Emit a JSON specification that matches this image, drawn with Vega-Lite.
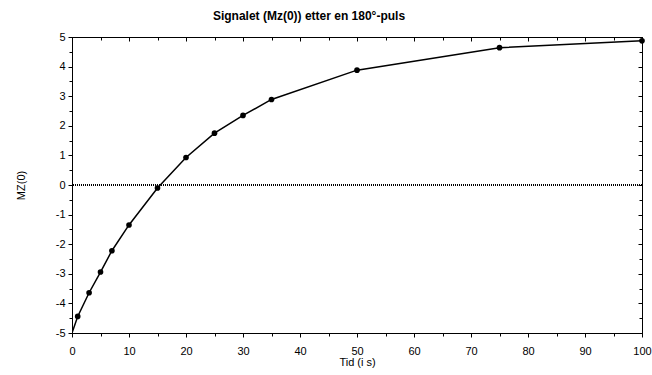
{
  "$schema": "https://vega.github.io/schema/vega-lite/v6.json",
  "width": 570,
  "height": 296,
  "autosize": "none",
  "padding": {"left": 72, "top": 37, "right": 11, "bottom": 42},
  "background": "white",
  "config": {
    "font": "Liberation Sans",
    "view": {"stroke": "black", "strokeWidth": 1},
    "axis": {
      "domainColor": "black",
      "tickColor": "black",
      "labelColor": "black",
      "titleColor": "black",
      "labelFont": "Liberation Sans",
      "titleFont": "Liberation Sans",
      "labelFontSize": 11,
      "titleFontSize": 11,
      "titleFontWeight": "normal",
      "grid": false
    }
  },
  "title": {
    "text": "Signalet (Mz(0)) etter en 180°-puls",
    "font": "Liberation Sans",
    "fontSize": 12,
    "fontWeight": "bold",
    "color": "black",
    "anchor": "middle",
    "baseline": "alphabetic",
    "dx": -48,
    "dy": 3,
    "offset": 2
  },
  "data": {
    "values": [
      {"t": 0, "mz": -5.0, "punkt": false},
      {"t": 1, "mz": -4.44, "punkt": true},
      {"t": 3, "mz": -3.64, "punkt": true},
      {"t": 5, "mz": -2.94, "punkt": true},
      {"t": 7, "mz": -2.22, "punkt": true},
      {"t": 10, "mz": -1.35, "punkt": true},
      {"t": 15, "mz": -0.1, "punkt": true},
      {"t": 20, "mz": 0.93, "punkt": true},
      {"t": 25, "mz": 1.75, "punkt": true},
      {"t": 30, "mz": 2.35, "punkt": true},
      {"t": 35, "mz": 2.89, "punkt": true},
      {"t": 50, "mz": 3.88, "punkt": true},
      {"t": 75, "mz": 4.64, "punkt": true},
      {"t": 100, "mz": 4.87, "punkt": true}
    ]
  },
  "layer": [
    {
      "mark": {"type": "rule", "color": "black", "strokeDash": [1, 1], "strokeWidth": 1},
      "encoding": {
        "y": {"datum": 0, "type": "quantitative", "scale": {"domain": [-5, 5], "nice": false}, "axis": null}
      }
    },
    {
      "mark": {"type": "line", "color": "black", "strokeWidth": 1.5, "clip": true},
      "encoding": {
        "x": {
          "field": "t", "type": "quantitative",
          "scale": {"domain": [0, 100], "nice": false},
          "axis": {
            "title": "Tid (i s)",
            "titlePadding": 0,
            "values": [0,5,10,15,20,25,30,35,40,45,50,55,60,65,70,75,80,85,90,95,100],
            "labelExpr": "datum.value % 10 === 0 ? '' + datum.value : ''",
            "tickSize": {"condition": {"test": "datum.value % 10 === 0", "value": 4}, "value": 3},
            "labelPadding": 8,
            "labelFlush": false,
            "labelOverlap": false
          }
        },
        "y": {
          "field": "mz", "type": "quantitative",
          "scale": {"domain": [-5, 5], "nice": false},
          "axis": {
            "title": "MZ(0)",
            "titlePadding": 29,
            "values": [-5,-4.5,-4,-3.5,-3,-2.5,-2,-1.5,-1,-0.5,0,0.5,1,1.5,2,2.5,3,3.5,4,4.5,5],
            "labelExpr": "datum.value % 1 === 0 ? '' + datum.value : ''",
            "tickSize": {"condition": {"test": "datum.value % 1 === 0", "value": 4}, "value": 3},
            "labelPadding": 3,
            "labelFlush": false,
            "labelOverlap": false
          }
        }
      }
    },
    {
      "transform": [{"filter": "datum.punkt"}],
      "mark": {"type": "point", "filled": true, "color": "black", "opacity": 1, "size": 32, "clip": false},
      "encoding": {
        "x": {
          "field": "t", "type": "quantitative",
          "scale": {"domain": [0, 100], "nice": false},
          "axis": {
            "title": null,
            "values": [0,5,10,15,20,25,30,35,40,45,50,55,60,65,70,75,80,85,90,95,100],
            "labels": false,
            "tickSize": {"condition": {"test": "datum.value % 10 === 0", "value": -4}, "value": -3}
          }
        },
        "y": {
          "field": "mz", "type": "quantitative",
          "scale": {"domain": [-5, 5], "nice": false},
          "axis": {
            "title": null,
            "values": [-5,-4.5,-4,-3.5,-3,-2.5,-2,-1.5,-1,-0.5,0,0.5,1,1.5,2,2.5,3,3.5,4,4.5,5],
            "labels": false,
            "tickSize": {"condition": {"test": "datum.value % 1 === 0", "value": -4}, "value": -3}
          }
        }
      }
    }
  ],
  "resolve": {"axis": {"x": "independent", "y": "independent"}}
}
